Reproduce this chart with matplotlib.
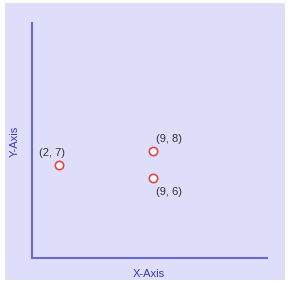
import matplotlib
matplotlib.use("Agg")
import matplotlib.pyplot as plt
from matplotlib.patches import Rectangle

xs = [2, 9, 9]
ys = [7, 8, 6]
labels = ["(2, 7)", "(9, 8)", "(9, 6)"]
offsets = [(-7, 12), (16, 12), (16, -14)]

W, H = 288, 282
fig = plt.figure(figsize=(W / 100, H / 100), dpi=100)
fig.patch.set_facecolor("white")
bg = Rectangle((5 / W, 2 / H), 280 / W, 277 / H, transform=fig.transFigure,
               facecolor="#dedefa", edgecolor="none", zorder=-10)
fig.add_artist(bg)

left, right, top, bottom = 32, 267, 23, 258
ax = fig.add_axes([left / W, (H - bottom) / H, (right - left) / W, (bottom - top) / H])
ax.set_facecolor("none")
ax.set_zorder(1)
ax.set_xlim(0, 17.5)
ax.set_ylim(0, 17.6)
for s in ["top", "right"]:
    ax.spines[s].set_visible(False)
for s in ["left", "bottom"]:
    ax.spines[s].set_color("#6a6ad0")
    ax.spines[s].set_linewidth(1.5)
ax.set_xticks([])
ax.set_yticks([])

ax.plot(xs, ys, linestyle="none", marker="o", markersize=6, markerfacecolor="white",
        markeredgecolor="#e04848", markeredgewidth=1.2, clip_on=False)
for x, y, t, (dx, dy) in zip(xs, ys, labels, offsets):
    ax.annotate(t, (x, y), xytext=(dx * 0.72, dy * 0.72), textcoords="offset points",
                ha="center", va="center", fontsize=8, family="Liberation Sans", color="#333333")

fig.text(149 / W, 1 - 274 / H, "X-Axis", ha="center", va="center", fontsize=8,
         family="Liberation Sans", color="#3b3bb0", zorder=2)
fig.text(15 / W, 1 - 141 / H, "Y-Axis", ha="center", va="center", rotation=90, fontsize=8,
         family="Liberation Sans", color="#3b3bb0", zorder=2)

fig.savefig("out.png", dpi=100)
